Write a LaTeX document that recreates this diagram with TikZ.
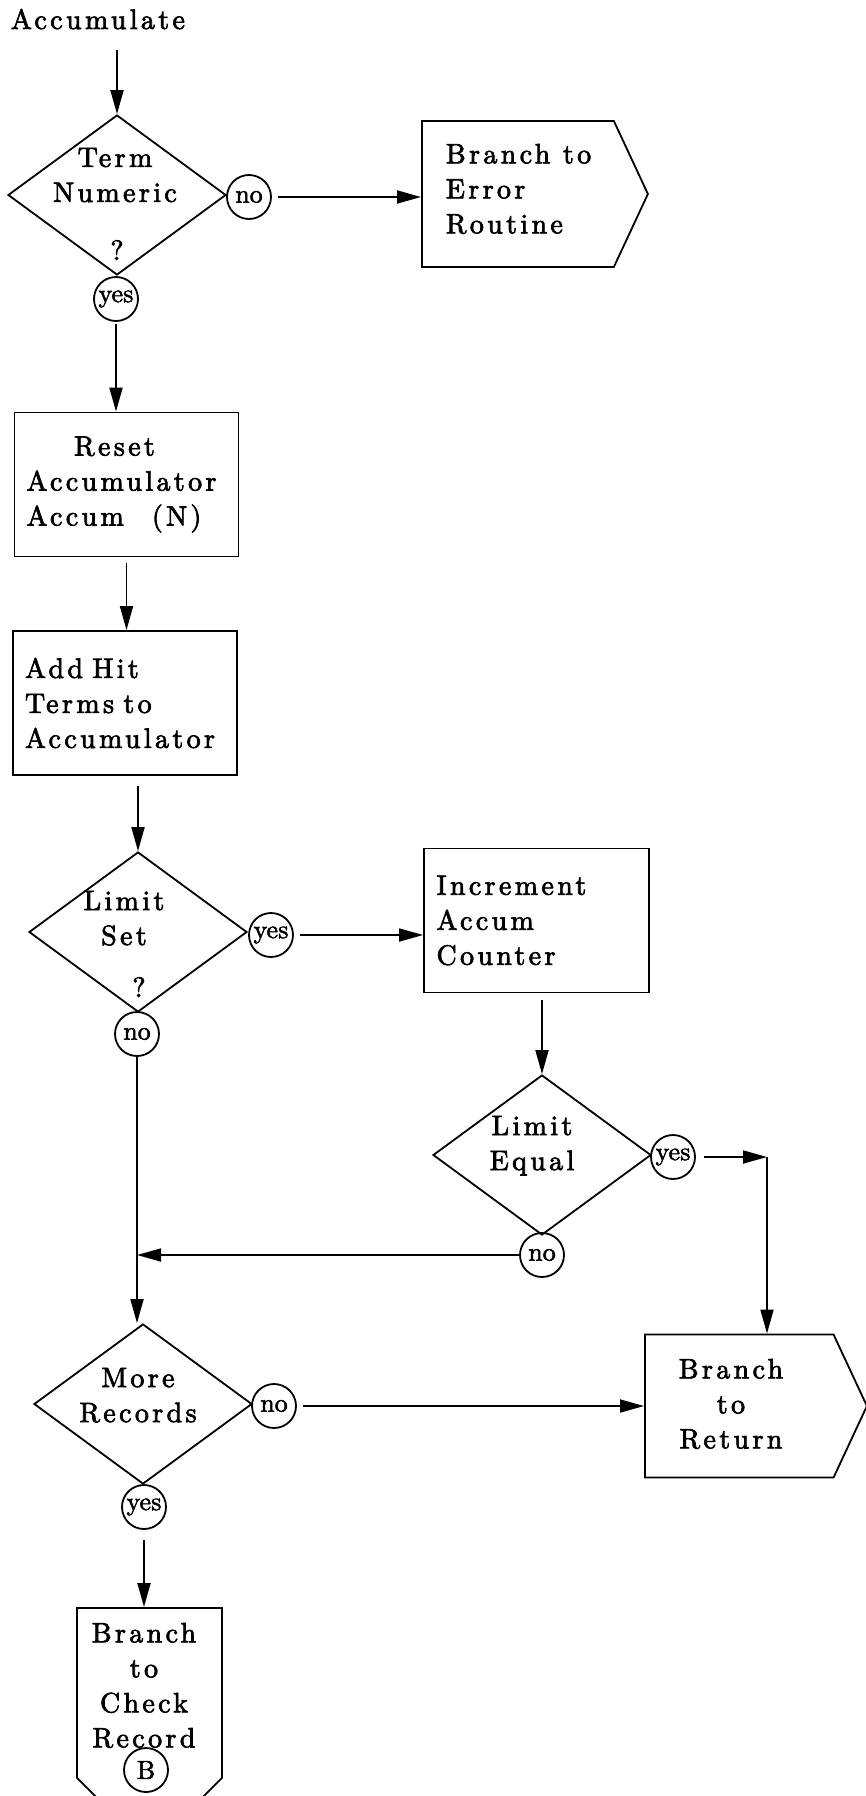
\documentclass[tikz,border=0pt]{standalone}
\usepackage{fontspec}
\newfontfamily\flowfont{lmroman10-regular.otf}[LetterSpace=12,FakeBold=2.5]
\newfontfamily\answerfont{lmroman10-regular.otf}[FakeBold=2]
\usetikzlibrary{shapes.geometric,shapes.symbols,arrows.meta}

\begin{document}
\begin{tikzpicture}[x=1pt,y=-1pt,line width=1.8pt,
   >={Triangle[length=24pt,width=13pt]},
   txt/.style={inner sep=0pt,font=\flowfont\fontsize{28}{35}\selectfont},
   decision/.style={draw,diamond,inner sep=0pt,minimum width=218pt,minimum height=160pt},
   proc/.style={draw,rectangle,inner xsep=12pt,text width=200pt,minimum height=144pt,
      align=left,font=\flowfont\fontsize{28}{35}\selectfont},
   answer/.style={draw,circle,inner sep=0pt,minimum size=44pt,font=\answerfont\fontsize{26}{26}\selectfont},
   exit/.style={draw,signal,signal to=east,signal pointer angle=130,inner sep=0pt,
      minimum width=226pt,minimum height=146pt},
   offpage/.style={draw,signal,signal to=south,signal pointer angle=90,inner sep=0pt,
      minimum width=145pt,minimum height=170pt}]
   \useasboundingbox (0,0) rectangle (866,1796);
   \clip (0,0) rectangle (866,1796);

   % first test
   \node[txt,anchor=north west] (acc) at (10,8) {Accumulate};
   \node[decision] (tn) at (117,195) {};
   \node[txt,anchor=north,align=center] (tntext) at (115,147) {Term\\Numeric};
   \node[txt,anchor=base] (tnq) at (117,260) {?};
   \node[answer] (tnno) at (249,197) {no};
   \node[answer] (tnyes) at (116,299) {yes};
   \node[exit,anchor=west] (err) at (421,194) {};
   \node[txt,anchor=north west,align=left] (errtext) at (445,143) {Branch to\\Error\\Routine};

   % accumulator boxes
   \node[proc] (reset) at (126.5,484.5) {\hspace*{1.7em}Reset\\Accumulator\\Accum\quad(N)\\[-8pt]};
   \node[proc] (addhit) at (125,703) {Add Hit\\Terms to\\Accumulator};

   % limit test
   \node[decision] (ls) at (138,932) {};
   \node[txt,anchor=north,align=center] (lstext) at (124,890) {Limit\\Set};
   \node[txt,anchor=base] (lsq) at (139,997) {?};
   \node[answer] (lsyes) at (271,935) {yes};
   \node[answer] (lsno) at (137,1034) {no};
   \node[proc,minimum width=225pt] (incr) at (536.5,920.5) {Increment\\Accum\\Counter};
   \node[decision] (le) at (542,1155) {};
   \node[txt,anchor=north,align=center] (letext) at (532,1115) {Limit\\Equal};
   \node[answer] (leyes) at (673,1157) {yes};
   \node[answer] (leno) at (542,1255) {no};
   \coordinate (lecorner) at (767,1157);

   % more records
   \node[decision] (mr) at (143,1404) {};
   \node[txt,anchor=north,align=center] (mrtext) at (138,1367) {More\\Records};
   \node[answer] (mrno) at (274,1406) {no};
   \node[answer] (mryes) at (144,1507) {yes};
   \node[exit,anchor=west,minimum width=222pt,minimum height=143pt] (ret) at (644,1406) {};
   \node[txt,anchor=north,align=center] (rettext) at (731,1358) {Branch\\to\\Return};
   \node[offpage,anchor=north] (chk) at (149.5,1607) {};
   \node[txt,anchor=north,align=center] (chktext) at (144,1622) {Branch\\to\\Check\\Record};
   \node[answer] (chkb) at (146,1770) {B};

   % connectors
   \draw[->,shorten <=20pt] (acc.south -| tn.north) -- (tn.north);
   \draw[->,shorten <=6pt] (tnno) -- (tnno -| err.west);
   \draw[->,shorten <=2pt] (tnyes) -- (tnyes |- reset.north);
   \draw[->,shorten <=6pt] (reset.south) -- (reset.south |- addhit.north);
   \draw[->,shorten <=10pt] (addhit.south -| ls.north) -- (ls.north);
   \draw[->,shorten <=6pt] (lsyes) -- (lsyes -| incr.west);
   \draw[->,shorten <=7pt] (incr.south -| le.north) -- (le.north);
   \draw[->,shorten <=8pt] (leyes) -- (lecorner);
   \draw[->] (lecorner) -- (lecorner |- ret.north);
   \draw[->] (leno) -- (leno -| lsno);
   \draw[->] (lsno) -- (lsno |- mr.north);
   \draw[->,shorten <=6pt] (mrno) -- (mrno -| ret.west);
   \draw[->,shorten <=10pt] (mryes) -- (mryes |- chk.north);
\end{tikzpicture}
\end{document}
